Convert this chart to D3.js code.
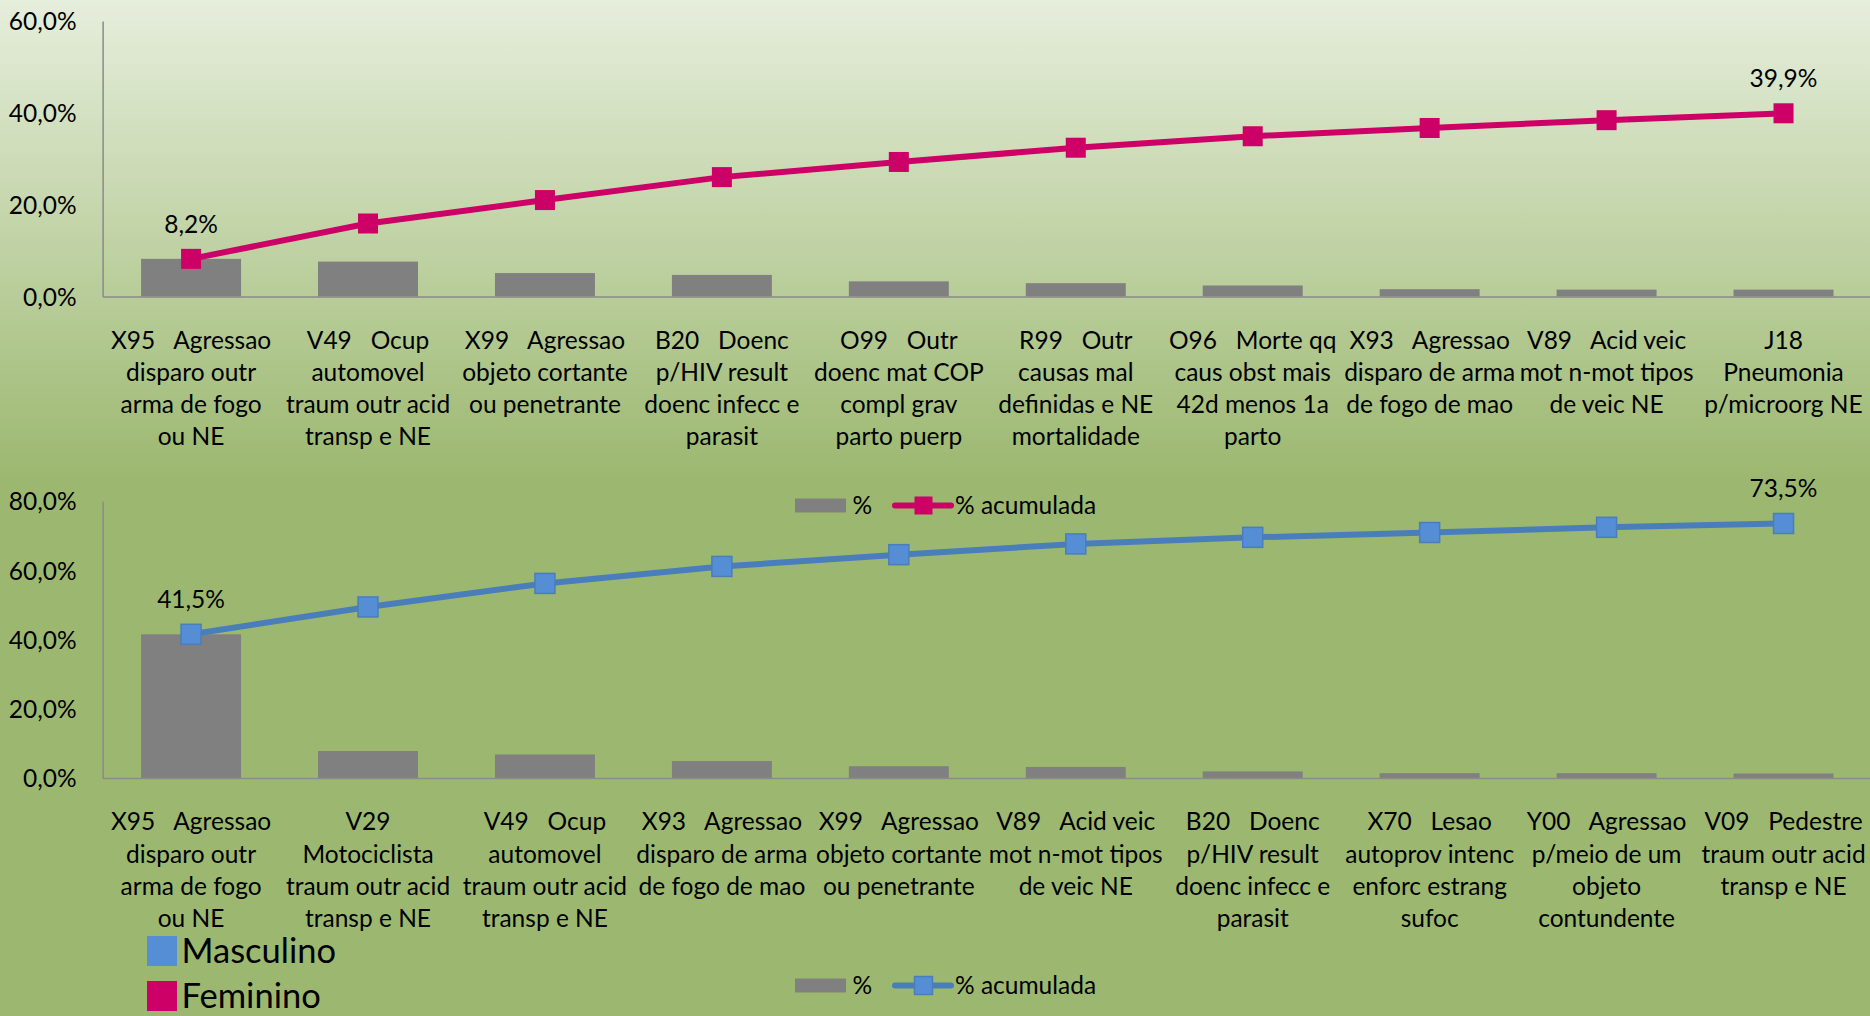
<!DOCTYPE html>
<html>
<head>
<meta charset="utf-8">
<script src="https://cdn.jsdelivr.net/npm/d3@7"></script>
<style>
  html, body { margin: 0; padding: 0; background: #9CB870; }
  svg { display: block; }
  text { font-family: Lato, "Open Sans", sans-serif; fill: #000; white-space: pre; }
</style>
</head>
<body>
<svg id="chart" width="1870" height="1016"></svg>
<script>
// Feminino: ten leading causes of death, share (%) and cumulative share (%)
const femCategories = [
  "X95   Agressao\ndisparo outr\narma de fogo\nou NE",
  "V49   Ocup\nautomovel\ntraum outr acid\ntransp e NE",
  "X99   Agressao\nobjeto cortante\nou penetrante",
  "B20   Doenc\np/HIV result\ndoenc infecc e\nparasit",
  "O99   Outr\ndoenc mat COP\ncompl grav\nparto puerp",
  "R99   Outr\ncausas mal\ndefinidas e NE\nmortalidade",
  "O96   Morte qq\ncaus obst mais\n42d menos 1a\nparto",
  "X93   Agressao\ndisparo de arma\nde fogo de mao",
  "V89   Acid veic\nmot n-mot tipos\nde veic NE",
  "J18\nPneumonia\np/microorg NE"
];
const femPct = [8.2, 7.6, 5.1, 4.7, 3.3, 2.9, 2.4, 1.6, 1.5, 1.5];
const femCum = [8.2, 15.9, 21.0, 26.0, 29.3, 32.4, 34.9, 36.7, 38.4, 39.9];
const femTicks = [0, 20, 40, 60];

// Masculino: ten leading causes of death, share (%) and cumulative share (%)
const mascCategories = [
  "X95   Agressao\ndisparo outr\narma de fogo\nou NE",
  "V29\nMotociclista\ntraum outr acid\ntransp e NE",
  "V49   Ocup\nautomovel\ntraum outr acid\ntransp e NE",
  "X93   Agressao\ndisparo de arma\nde fogo de mao",
  "X99   Agressao\nobjeto cortante\nou penetrante",
  "V89   Acid veic\nmot n-mot tipos\nde veic NE",
  "B20   Doenc\np/HIV result\ndoenc infecc e\nparasit",
  "X70   Lesao\nautoprov intenc\nenforc estrang\nsufoc",
  "Y00   Agressao\np/meio de um\nobjeto\ncontundente",
  "V09   Pedestre\ntraum outr acid\ntransp e NE"
];
const mascPct = [41.5, 7.8, 6.8, 4.9, 3.4, 3.2, 1.9, 1.4, 1.4, 1.3];
const mascCum = [41.5, 49.4, 56.2, 61.1, 64.5, 67.6, 69.5, 70.9, 72.4, 73.5];
const mascTicks = [0, 20, 40, 60, 80];

const seriesNames = ["%", "% acumulada"];
const sexNames = ["Masculino", "Feminino"];

const COLORS = {
  bar: "#808080",
  axis: "#8A8A8A",
  pink: "#CC0066",
  blueFill: "#558ED5",
  blueLine: "#4A7EBB"
};

const locale = d3.formatLocale({ decimal: ",", thousands: ".", grouping: [3], currency: ["R$", ""] });
const fmt = v => locale.format(".1f")(v) + "%";

const svg = d3.select("#chart");

// background: light-to-green gradient behind the upper chart, flat green below
const defs = svg.append("defs");
const grad = defs.append("linearGradient")
  .attr("id", "bg").attr("x1", 0).attr("y1", 0).attr("x2", 0).attr("y2", 1);
grad.append("stop").attr("offset", 0).attr("stop-color", "#E6EEDC");
grad.append("stop").attr("offset", 0.47).attr("stop-color", "#9CB870");
grad.append("stop").attr("offset", 1).attr("stop-color", "#9CB870");
svg.append("rect").attr("width", 1870).attr("height", 1016).attr("fill", "url(#bg)");

const FONT = 24.5;

function drawPareto(cfg) {
  const g = svg.append("g");
  const idx = d3.range(cfg.categories.length);

  const x = d3.scaleBand().domain(idx)
    .range([cfg.left, cfg.right])
    .paddingInner(0.435).paddingOuter(0.2175);
  const y = d3.scaleLinear().domain([0, d3.max(cfg.ticks)])
    .range([cfg.bottom, cfg.top]);
  const cx = i => x(i) + x.bandwidth() / 2;

  // bars
  g.append("g").selectAll("rect").data(cfg.pct).join("rect")
    .attr("x", (d, i) => x(i))
    .attr("y", d => y(d))
    .attr("width", x.bandwidth())
    .attr("height", d => y(0) - y(d))
    .attr("fill", COLORS.bar);

  // y axis
  const yAxis = g.append("g")
    .attr("transform", `translate(${cfg.left},0)`)
    .call(d3.axisLeft(y).tickValues(cfg.ticks).tickFormat(fmt).tickSize(0).tickPadding(26));
  yAxis.select(".domain").attr("stroke", COLORS.axis).attr("stroke-width", 1.5);
  yAxis.selectAll(".tick text")
    .attr("font-family", "Lato").attr("font-size", FONT).attr("fill", "#000")
    .attr("dy", "0.36em");

  // x axis with wrapped category labels
  const xAxis = g.append("g")
    .attr("transform", `translate(0,${cfg.bottom})`)
    .call(d3.axisBottom(x).tickSize(0).tickFormat(""));
  xAxis.select(".domain").attr("stroke", COLORS.axis).attr("stroke-width", 1.5);
  xAxis.selectAll(".tick").each(function (i) {
    const lines = cfg.categories[i].split("\n");
    const t = d3.select(this).append("text")
      .attr("text-anchor", "middle")
      .attr("font-size", FONT)
      .attr("fill", "#000");
    lines.forEach((ln, k) => {
      t.append("tspan").attr("x", 0)
        .attr("y", 43.5 + k * 32.2 + FONT * 0.36)
        .text(ln);
    });
  });

  // cumulative line
  const line = d3.line().x((d, i) => cx(i)).y(d => y(d));
  g.append("path").datum(cfg.cum)
    .attr("d", line)
    .attr("fill", "none")
    .attr("stroke", cfg.lineColor)
    .attr("stroke-width", 6)
    .attr("stroke-linejoin", "round");

  // square markers
  g.append("g").selectAll("rect").data(cfg.cum).join("rect")
    .attr("x", (d, i) => cx(i) - 10)
    .attr("y", d => y(d) - 10)
    .attr("width", 20).attr("height", 20)
    .attr("fill", cfg.markerFill)
    .attr("stroke", cfg.markerStroke)
    .attr("stroke-width", cfg.markerStroke === "none" ? 0 : 1.5);

  // value labels on first and last points
  const last = cfg.cum.length - 1;
  [0, last].forEach(i => {
    g.append("text")
      .attr("x", cx(i))
      .attr("y", y(cfg.cum[i]) - 35 + FONT * 0.36)
      .attr("text-anchor", "middle")
      .attr("font-size", FONT)
      .text(fmt(cfg.cum[i]));
  });

  // series legend
  const lg = svg.append("g").attr("transform", `translate(0,${cfg.legendY})`);
  lg.append("rect").attr("x", 795).attr("y", -7).attr("width", 51).attr("height", 14)
    .attr("fill", COLORS.bar);
  lg.append("text").attr("x", 852.5).attr("y", FONT * 0.36).attr("font-size", FONT)
    .text(seriesNames[0]);
  lg.append("line").attr("x1", 895).attr("x2", 951).attr("y1", 0).attr("y2", 0)
    .attr("stroke", cfg.lineColor).attr("stroke-width", 6).attr("stroke-linecap", "round");
  lg.append("rect").attr("x", 914.5).attr("y", -9).attr("width", 18).attr("height", 18)
    .attr("fill", cfg.markerFill)
    .attr("stroke", cfg.markerStroke)
    .attr("stroke-width", cfg.markerStroke === "none" ? 0 : 1.5);
  lg.append("text").attr("x", 955).attr("y", FONT * 0.36).attr("font-size", FONT)
    .text(seriesNames[1]);
}

drawPareto({
  categories: femCategories, pct: femPct, cum: femCum, ticks: femTicks,
  left: 102.6, right: 1872, top: 21, bottom: 296.5,
  lineColor: COLORS.pink, markerFill: COLORS.pink, markerStroke: "none",
  legendY: 505.5
});

drawPareto({
  categories: mascCategories, pct: mascPct, cum: mascCum, ticks: mascTicks,
  left: 102.6, right: 1872, top: 501, bottom: 778,
  lineColor: COLORS.blueLine, markerFill: COLORS.blueFill, markerStroke: COLORS.blueLine,
  legendY: 985.5
});

// sex legend
const sexColors = [COLORS.blueFill, COLORS.pink];
const sg = svg.append("g");
sexNames.forEach((name, k) => {
  const cy = 951 + k * 45;
  sg.append("rect").attr("x", 147).attr("y", cy - 15).attr("width", 30).attr("height", 30)
    .attr("fill", sexColors[k]);
  sg.append("text").attr("x", 181.5).attr("y", cy + 34 * 0.36)
    .attr("font-size", 34.5).text(name);
});
</script>
</body>
</html>
